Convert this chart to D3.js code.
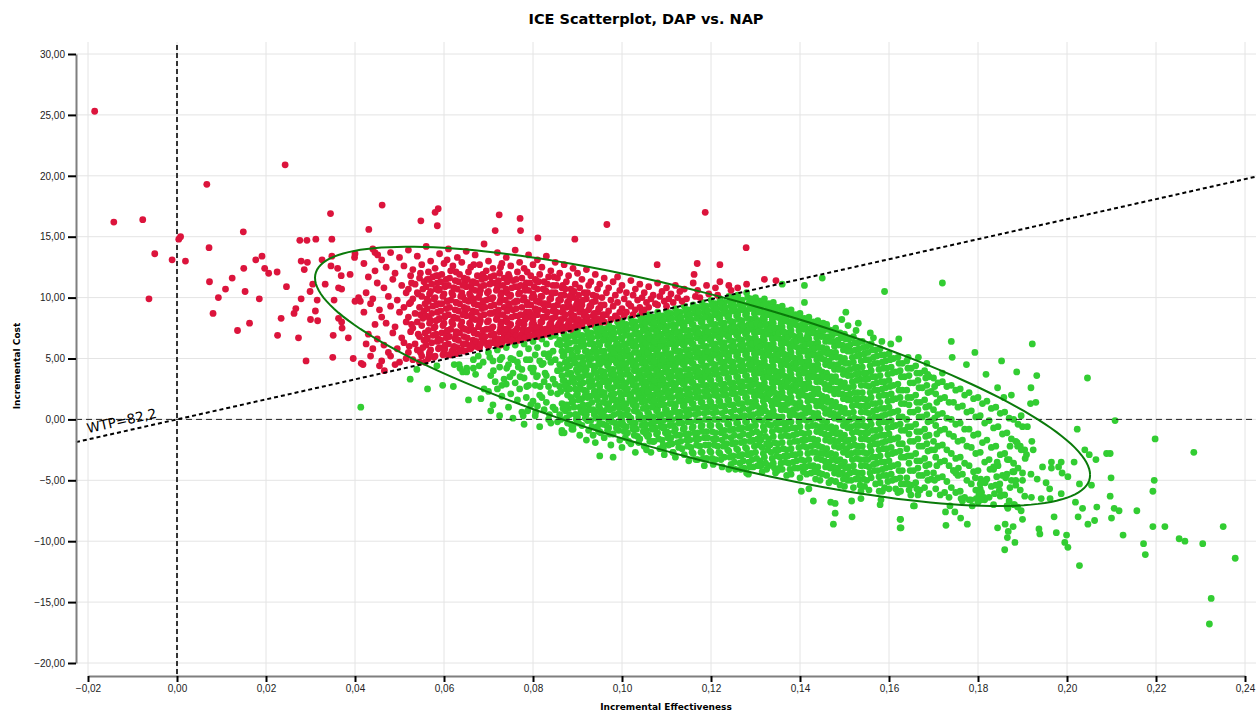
<!DOCTYPE html>
<html>
<head>
    <meta charset="utf-8">
    <script src="https://d3js.org/d3.v7.min.js"></script>
    <title>ICE Scatterplot</title>
    <style>
        body { margin: 0; background: #fff; }
    </style>
</head>
<body>
<svg id="chart"></svg>
<script>
// labels
const chartTitle = "ICE Scatterplot, DAP vs. NAP";
const xTitle = "Incremental Effectiveness";
const yTitle = "Incremental Cost";
const wtp = 82.2;
const xTicks = [-0.02, 0, 0.02, 0.04, 0.06, 0.08, 0.10, 0.12, 0.14, 0.16, 0.18, 0.20, 0.22, 0.24];
const yTicks = [-20, -15, -10, -5, 0, 5, 10, 15, 20, 25, 30];

// 95% ellipse of the simulated pairs
const meanEff = 0.1181, meanCost = 3.53;
const sdEff = 0.03558, sdCost = 4.349, corr = -0.76;
const chi2_95 = 5.991;

// simulated pairs: effectiveness x1000, cost x10
const leftOutliers = [
 -18.5,253, -14.2,162, -7.7,164, -5.0,136, -1.1,131, -6.3,99, 0.4,148, 0.8,150, 1.9,130, 6.7,193,
 7.2,141, 7.3,113, 8.1,87, 9.3,100, 10.9,107, 12.4,116, 13.6,73, 14.9,154, 15.0,124, 15.3,105,
 16.3,79, 17.7,131, 18.5,99, 19.1,134, 19.7,124, 20.6,120, 22.5,121, 22.6,69, 23.4,83, 24.3,209,
 24.6,109, 26.3,87, 26.7,91, 27.3,67, 27.6,147, 27.9,130, 27.9,99, 28.6,123, 29.0,48, 29.2,147,
 29.3,129, 29.9,105, 30.0,82, 30.5,111, 31.1,89, 31.2,148, 31.5,98, 31.6,81, 32.6,131, 33.3,111,
 34.5,169, 34.8,148, 35.1,69, 35.0,51, 35.3,98, 34.6,126, 34.8,134, 36.1,124, 36.3,108, 36.3,83,
 36.9,118, 37.0,107, 37.0,80, 37.1,75, 38.5,67, 38.9,119, 39.6,50, 39.9,133, 40.0,136, 40.0,97,
 40.8,100, 41.2,97, 41.4,46, 41.8,45, 43.1,156, 46.1,176, 44.5,137, 45.1,135, 46.6,40,
 54.8,163, 58.5,159, 58,170, 58.7,173, 72.4,168, 77.1,165, 77.2,155, 71.5,155, 81.1,149, 89.4,148,
 96.6,160, 118.7,170, 127.9,141, 107.9,127, 116.9,128, 116.2,119, 122,127, 132,115, 134.6,114
];

const upperCloud = [
 42,128, 42.5,104, 42,88, 42.5,62, 43,117, 43.5,95, 43,70, 43.5,52,
 44,140, 44.5,122, 44,99, 44.5,78, 44,58, 45,112, 45.5,90, 45,66, 45.5,44,
 46,131, 46.5,108, 46,84, 46.5,61, 46,48, 47,125, 47.5,101, 47,79, 47.5,55,
 48,137, 48.5,115, 48,93, 48.5,71, 48,52, 49,120, 49.5,98, 49,76, 49.5,58, 49,45,
 50,133, 50.5,110, 50,88, 50.5,67, 50,47, 51,126, 51.5,104, 51,92, 51.5,80, 51,63, 51.5,50,
 52,139, 52.5,118, 52,107, 52.5,96, 52,84, 52.5,72, 52,55, 52.7,112, 52.2,95, 52.7,78, 52.2,60,
 53,123, 53.5,111, 53,99, 53.5,87, 53,75, 53.5,62, 53,49,
 54,134, 54.5,116, 54,104, 54.5,92, 54,80, 54.5,68, 54,57, 54.5,47, 54.7,120, 54.2,103, 54.7,86, 54.2,70, 54.7,55,
 55,127, 55.5,113, 55,101, 55.5,89, 55,77, 55.5,65, 55,52,
 56,142, 56.5,121, 56,109, 56.5,97, 56,85, 56.5,73, 56,61, 56.5,50, 56.7,115, 56.2,99, 56.7,83, 56.2,66, 56.7,53,
 57,130, 57.5,117, 57,105, 57.5,93, 57,81, 57.5,69, 57,57,
 58,124, 58.5,112, 58,100, 58.5,88, 58,76, 58.5,64, 58,52, 58.7,118, 58.2,107, 58.7,95, 58.2,81, 58.7,66,
 59,136, 59.5,119, 59,107, 59.5,95, 59,83, 59.5,71, 59,59,
 60,128, 60.5,115, 60,103, 60.5,91, 60,79, 60.5,67, 60,55, 60.7,131, 60.2,110, 60.7,97, 60.2,84, 60.7,71, 60.2,58,
 61,140, 61.5,122, 61,110, 61.5,98, 61,86, 61.5,74, 61,62, 61.5,53,
 62,126, 62.5,114, 62,102, 62.5,90, 62,78, 62.5,66, 62,56, 62.7,121, 62.2,108, 62.7,96, 62.2,83, 62.7,70, 62.2,59,
 63,133, 63.5,119, 63,107, 63.5,95, 63,83, 63.5,71, 63,59,
 64,129, 64.5,116, 64,104, 64.5,92, 64,80, 64.5,68, 64,57, 64.7,113, 64.2,101, 64.7,88, 64.2,75, 64.7,62,
 65,138, 65.5,121, 65,109, 65.5,97, 65,85, 65.5,73, 65,62,
 66,125, 66.5,113, 66,101, 66.5,89, 66,77, 66.5,65, 66,58, 66.7,127, 66.2,111, 66.7,99, 66.2,86, 66.7,73, 66.2,61,
 67,135, 67.5,118, 67,106, 67.5,94, 67,82, 67.5,70, 67,60,
 68,127, 68.5,115, 68,103, 68.5,91, 68,79, 68.5,67, 68,59, 68.7,119, 68.2,106, 68.7,94, 68.2,81, 68.7,69, 68.2,62,
 69,144, 69.5,122, 69,110, 69.5,98, 69,86, 69.5,74, 69,64,
 70,130, 70.5,117, 70,105, 70.5,93, 70,81, 70.5,69, 70,60, 70.7,112, 70.2,99, 70.7,87, 70.2,74, 70.7,63,
 71,124, 71.5,112, 71,100, 71.5,88, 71,76, 71.5,66,
 72,137, 72.5,120, 72,108, 72.5,96, 72,84, 72.5,72, 72,62, 72.7,125, 72.2,110, 72.7,98, 72.2,86, 72.7,75, 72.2,66,
 73,128, 73.5,116, 73,104, 73.5,92, 73,80, 73.5,70, 73,63,
 74,133, 74.5,119, 74,107, 74.5,95, 74,83, 74.5,73, 74,65, 74.7,117, 74.2,104, 74.7,92, 74.2,80, 74.7,69,
 75,126, 75.5,114, 75,102, 75.5,90, 75,78, 75.5,68,
 76,139, 76.5,121, 76,109, 76.5,97, 76,85, 76.5,75, 76,66, 76.7,109, 76.2,97, 76.7,85, 76.2,73, 76.7,67,
 77,129, 77.5,116, 77,104, 77.5,92, 77,80, 77.5,70,
 78,124, 78.5,112, 78,100, 78.5,88, 78,78, 78.5,68, 78.7,121, 78.2,108, 78.7,96, 78.2,84, 78.7,73, 78.2,68,
 79,135, 79.5,118, 79,106, 79.5,94, 79,84, 79.5,74, 79,67,
 80,127, 80.5,115, 80,103, 80.5,91, 80,81, 80.5,71, 80.7,114, 80.2,101, 80.7,89, 80.2,78, 80.7,70,
 81,131, 81.5,119, 81,107, 81.5,96, 81,86, 81.5,76, 81,68,
 82,125, 82.5,113, 82,101, 82.5,90, 82,80, 82.5,71, 82.7,106, 82.2,95, 82.7,84, 82.2,73,
 83,134, 83.5,117, 83,105, 83.5,94, 83,84, 83.5,75, 83,70,
 84,122, 84.5,110, 84,99, 84.5,89, 84,79, 84.5,72, 84.7,117, 84.2,103, 84.7,92, 84.2,82, 84.7,75,
 85,129, 85.5,116, 85,104, 85.5,94, 85,84, 85.5,76,
 86,120, 86.5,108, 86,98, 86.5,88, 86,79, 86.5,73, 86.7,110, 86.2,98, 86.7,88, 86.2,80,
 87,127, 87.5,113, 87,102, 87.5,92, 87,83, 87.5,75,
 88,118, 88.5,107, 88,97, 88.5,87, 88,79, 88.5,74, 88.7,103, 88.2,93, 88.7,84, 88.2,77,
 89,124, 89.5,111, 89,100, 89.5,91, 89,82, 89.5,76,
 90,120, 90.5,108, 90,97, 90.5,88, 90,79, 91,115, 91.5,104, 91,94, 91.5,85, 91,77,
 92,123, 92.5,110, 92,99, 92.5,90, 92,81, 93,113, 93.5,102, 93,93, 93.5,85, 93,78,
 94,119, 94.5,107, 94,97, 94.5,88, 94,81, 95,111, 95.5,100, 95,91, 95.5,83,
 96,116, 96.5,104, 96,94, 96.5,86, 96,80, 97,108, 97.5,98, 97,89, 97.5,82,
 98,113, 98.5,102, 98,93, 98.5,85, 99,117, 99.5,106, 99,96, 99.5,88, 99,83,
 100,110, 100.5,99, 100,91, 100.5,85, 101,104, 101.5,95, 101,88,
 102,114, 102.5,102, 102,93, 102.5,86, 103,107, 103.5,98, 103,90,
 104,111, 104.5,100, 104,92, 104.5,88, 105,104, 105.5,96, 105,90,
 106,109, 106.5,99, 106,92, 107,102, 107.5,95, 108,112, 108.5,101, 108,94,
 109,105, 109.5,97, 110,108, 110.5,99, 110,93, 111,103, 111.5,96, 112,110, 112.5,100,
 113,105, 113.5,97, 114,107, 114.5,99, 116,112, 116.5,101, 117,106, 117.5,100,
 119,110, 119.5,103, 121,108, 121.5,102, 122,113, 124,110, 124.5,106, 126,108, 128,111
];

const upperFill = [
 55.25,107, 55.75,95, 55.25,83, 55.75,71, 55.25,59, 55.75,47,
 56.25,115, 56.75,103, 56.25,91, 56.75,79, 56.25,67, 56.75,55,
 57.25,111, 57.75,99, 57.25,87, 57.75,75, 57.25,63, 57.75,51,
 58.25,118, 58.75,106, 58.25,94, 58.75,82, 58.25,70, 58.75,58,
 59.25,113, 59.75,101, 59.25,89, 59.75,77, 59.25,65, 59.75,53,
 60.25,109, 60.75,97, 60.25,85, 60.75,73, 60.25,61, 60.75,53,
 61.25,116, 61.75,104, 61.25,92, 61.75,80, 61.25,68, 61.75,56,
 62.25,108, 62.75,96, 62.25,84, 62.75,72, 62.25,60, 62.75,54,
 63.25,113, 63.75,101, 63.25,89, 63.75,77, 63.25,65, 63.75,56,
 64.25,110, 64.75,98, 64.25,86, 64.75,74, 64.25,62, 64.75,56,
 65.25,115, 65.75,103, 65.25,91, 65.75,79, 65.25,67, 65.75,58,
 66.25,107, 66.75,95, 66.25,83, 66.75,71, 66.25,61,
 67.25,112, 67.75,100, 67.25,88, 67.75,76, 67.25,64, 67.75,59,
 68.25,109, 68.75,97, 68.25,85, 68.75,73, 68.25,62,
 69.25,116, 69.75,104, 69.25,92, 69.75,80, 69.25,68, 69.75,61,
 70.25,111, 70.75,99, 70.25,87, 70.75,75, 70.25,63,
 71.25,118, 71.75,106, 71.25,94, 71.75,82, 71.25,70, 71.75,62,
 72.25,114, 72.75,102, 72.25,90, 72.75,78, 72.25,66, 72.75,61,
 73.25,110, 73.75,98, 73.25,86, 73.75,74, 73.25,66,
 74.25,113, 74.75,101, 74.25,89, 74.75,77, 74.25,67, 74.75,64,
 75.25,108, 75.75,96, 75.25,84, 75.75,72, 75.25,65,
 76.25,115, 76.75,103, 76.25,91, 76.75,79, 76.25,69, 76.75,65,
 77.25,110, 77.75,98, 77.25,86, 77.75,74, 77.25,66,
 78.25,106, 78.75,94, 78.25,82, 78.75,72, 78.25,67,
 79.25,112, 79.75,100, 79.25,88, 79.75,78, 79.25,69,
 80.25,109, 80.75,97, 80.25,85, 80.75,75, 80.25,69,
 81.25,113, 81.75,101, 81.25,90, 81.75,80, 81.25,71,
 82.25,107, 82.75,95, 82.25,84, 82.75,74, 82.25,70,
 83.25,111, 83.75,99, 83.25,88, 83.75,78, 83.25,72,
 84.25,104, 84.75,93, 84.25,83, 84.75,75,
 85.25,110, 85.75,98, 85.25,88, 85.75,78, 85.25,73,
 86.25,102, 86.75,92, 86.25,82, 86.75,76,
 87.25,107, 87.75,96, 87.25,86, 87.75,77,
 88.25,101, 88.75,91, 88.25,81, 88.75,76,
 89.25,105, 89.75,94, 89.25,85, 89.75,78,
 90.25,102, 90.75,91, 90.25,82, 90.75,77,
 91.25,98, 91.75,88, 91.25,80, 92.25,104, 92.75,93, 92.25,84, 92.75,79,
 93.25,96, 93.75,87, 93.25,80, 94.25,101, 94.75,91, 94.25,83, 95.25,94, 95.75,86, 95.25,80
];

const mainCloud = [
 41.3,10, 52.4,33, 53.9,41, 56.3,25, 58.4,44, 59.7,28, 62.1,27, 62.3,45, 63.6,42, 65.1,42,
 65.5,16, 66.6,49, 67.7,52, 68.3,17, 69,25, 63.4,45, 64.2,39, 65.1,39, 66.6,42, 67.1,37,
 67.9,44, 68.8,47, 70.3,51, 71.1,40, 72.6,49, 73,28, 74.1,42, 74.8,35, 75.6,49, 76.7,43,
 77.1,35, 78.6,27, 79.3,49, 80.1,42, 80.8,35, 81.6,27, 82.3,46, 82.7,38, 83.7,54,
 70,55, 70.5,36, 70,23, 70.5,7, 71,48, 71.5,31, 71,12, 72,57, 72.5,43, 72,25, 72.5,3,
 73,51, 73.5,33, 73,19, 74,59, 74.5,45, 74,29, 74.5,10, 75,50, 75.5,38, 75,21, 75.5,1,
 76,61, 76.5,47, 76,30, 76.5,16, 77,54, 77.5,41, 77,25, 77.5,6, 78,62, 78.5,49, 78,34, 78.5,18, 78,-4,
 79,58, 79.5,42, 79,28, 79.5,12, 80,64, 80.5,53, 80,39, 80.5,28, 80,15, 80.5,3,
 81,59, 81.5,48, 81,36, 81.5,20, 81,11, 81.5,-6, 82,66, 82.5,54, 82,45, 82.5,31, 82,18, 82.5,8,
 83,62, 83.5,51, 83,36, 83.5,27, 83,14, 83.5,0, 84,68, 84.5,56, 84,47, 84.5,33, 84,22, 84.5,10, 84,-3,
 85,69, 85.5,62, 85,49, 85.5,40, 85,29, 85.5,21, 85,8, 85.5,-2,
 86,65, 86.5,56, 86,45, 86.5,36, 86,27, 86.5,13, 86,4, 86.5,-9,
 87,70, 87.5,61, 87,53, 87.5,42, 87,32, 87.5,25, 87,12, 87.5,1, 87,-11,
 88,68, 88.5,57, 88,49, 88.5,38, 88,30, 88.5,18, 88,9, 88.5,-4,
 89,72, 89.5,64, 89,52, 89.5,46, 89,34, 89.5,25, 89,15, 89.5,4, 89,-8,
 90,73, 90.5,64, 90,56, 90.5,45, 90,39, 90.5,29, 90,21, 90.5,10, 90,2, 90.5,-13,
 91,69, 91.5,61, 91,51, 91.5,43, 91,35, 91.5,24, 91,17, 91.5,5, 91,-5,
 92,74, 92.5,67, 92,56, 92.5,49, 92,41, 92.5,31, 92,23, 92.5,12, 92,4, 92.5,-9, 92,-17,
 93,71, 93.5,62, 93,55, 93.5,44, 93,36, 93.5,28, 93,19, 93.5,8, 93,-1, 93.5,-13,
 94,76, 94.5,68, 94,58, 94.5,50, 94,43, 94.5,34, 94,23, 94.5,16, 94,6, 94.5,-6, 94,-19,
 95,77, 95.5,69, 95,61, 95.5,51, 95,45, 95.5,35, 95,27, 95.5,20, 95,9, 95.5,2, 95,-10,
 96,74, 96.5,66, 96,56, 96.5,49, 96,39, 96.5,32, 96,22, 96.5,13, 96,7, 96.5,-5, 96,-15,
 97,78, 97.5,70, 97,63, 97.5,53, 97,46, 97.5,37, 97,30, 97.5,20, 97,13, 97.5,2, 97,-7, 97.5,-21,
 98,75, 98.5,66, 98,59, 98.5,51, 98,41, 98.5,34, 98,26, 98.5,16, 98,9, 98.5,-3, 98,-12,
 99,80, 99.5,72, 99,62, 99.5,55, 99,48, 99.5,39, 99,32, 99.5,22, 99,15, 99.5,5, 99,-4, 99.5,-17,
 100,81, 100.5,73, 100,66, 100.5,56, 100,49, 100.5,42, 100,32, 100.5,26, 100,16, 100.5,9, 100,-1, 100.5,-10, 100,-23,
 101,78, 101.5,69, 101,62, 101.5,53, 101,46, 101.5,37, 101,30, 101.5,21, 101,13, 101.5,3, 101,-6, 101.5,-18,
 102,83, 102.5,75, 102,66, 102.5,60, 102,51, 102.5,44, 102,35, 102.5,28, 102,19, 102.5,12, 102,1, 102.5,-8, 102,-20,
 103,80, 103.5,71, 103,64, 103.5,55, 103,48, 103.5,40, 103,33, 103.5,24, 103,16, 103.5,6, 103,-3, 103.5,-14, 103,-27,
 104,85, 104.5,77, 104,70, 104.5,61, 104,53, 104.5,46, 104,37, 104.5,30, 104,21, 104.5,14, 104,4, 104.5,-5, 104,-16,
 105,83, 105.5,74, 105,67, 105.5,59, 105,52, 105.5,43, 105,36, 105.5,27, 105,20, 105.5,10, 105,1, 105.5,-9, 105,-22,
 106,86, 106.5,79, 106,70, 106.5,63, 106,54, 106.5,47, 106,38, 106.5,31, 106,22, 106.5,15, 106,5, 106.5,-4, 106,-13, 106.5,-27,
 107,84, 107.5,76, 107,68, 107.5,61, 107,52, 107.5,45, 107,36, 107.5,29, 107,20, 107.5,12, 107,2, 107.5,-7, 107,-18,
 108,88, 108.5,80, 108,73, 108.5,64, 108,57, 108.5,48, 108,41, 108.5,32, 108,25, 108.5,16, 108,8, 108.5,-2, 108,-11, 108.5,-24,
 109,85, 109.5,77, 109,70, 109.5,62, 109,53, 109.5,46, 109,38, 109.5,29, 109,22, 109.5,12, 109,4, 109.5,-6, 109,-17, 109.5,-29,
 110,89, 110.5,82, 110,73, 110.5,66, 110,58, 110.5,49, 110,42, 110.5,34, 110,25, 110.5,18, 110,8, 110.5,0, 110,-10, 110.5,-21,
 111,87, 111.5,78, 111,71, 111.5,63, 111,54, 111.5,47, 111,39, 111.5,30, 111,23, 111.5,13, 111,5, 111.5,-5, 111,-15, 111.5,-27,
 112,91, 112.5,83, 112,76, 112.5,67, 112,60, 112.5,51, 112,44, 112.5,35, 112,28, 112.5,19, 112,11, 112.5,1, 112,-8, 112.5,-19, 112,-31,
 113,88, 113.5,80, 113,72, 113.5,65, 113,56, 113.5,49, 113,40, 113.5,33, 113,24, 113.5,16, 113,6, 113.5,-3, 113,-13, 113.5,-24,
 114,93, 114.5,85, 114,77, 114.5,68, 114,61, 114.5,52, 114,45, 114.5,36, 114,29, 114.5,20, 114,12, 114.5,2, 114,-7, 114.5,-17, 114,-29,
 115,90, 115.5,82, 115,73, 115.5,66, 115,57, 115.5,50, 115,41, 115.5,34, 115,25, 115.5,17, 115,8, 115.5,-2, 115,-12, 115.5,-23, 115,-34,
 116,94, 116.5,87, 116,78, 116.5,71, 116,62, 116.5,55, 116,46, 116.5,39, 116,30, 116.5,22, 116,13, 116.5,4, 116,-6, 116.5,-16, 116,-28,
 117,92, 117.5,84, 117,75, 117.5,68, 117,59, 117.5,52, 117,43, 117.5,36, 117,27, 117.5,18, 117,9, 117.5,-1, 117,-11, 117.5,-22, 117,-33,
 118,96, 118.5,88, 118,80, 118.5,71, 118,64, 118.5,55, 118,48, 118.5,39, 118,32, 118.5,23, 118,14, 118.5,5, 118,-5, 118.5,-15, 118,-27, 118.5,-38,
 119,93, 119.5,85, 119,76, 119.5,69, 119,60, 119.5,53, 119,44, 119.5,37, 119,28, 119.5,19, 119,10, 119.5,0, 119,-10, 119.5,-21, 119,-32,
 120,98, 120.5,90, 120,82, 120.5,73, 120,66, 120.5,57, 120,50, 120.5,41, 120,32, 120.5,24, 120,14, 120.5,5, 120,-5, 120.5,-16, 120,-27, 120.5,-37,
 121,95, 121.5,87, 121,78, 121.5,71, 121,62, 121.5,54, 121,45, 121.5,37, 121,28, 121.5,19, 121,10, 121.5,0, 121,-11, 121.5,-22, 121,-33,
 122,99, 122.5,91, 122,83, 122.5,74, 122,67, 122.5,58, 122,51, 122.5,42, 122,33, 122.5,24, 122,15, 122.5,5, 122,-6, 122.5,-17, 122,-28, 122.5,-39,
 123,96, 123.5,88, 123,79, 123.5,72, 123,63, 123.5,55, 123,47, 123.5,38, 123,29, 123.5,20, 123,11, 123.5,1, 123,-9, 123.5,-20, 123,-31,
 124,101, 124.5,93, 124,85, 124.5,76, 124,69, 124.5,60, 124,52, 124.5,43, 124,34, 124.5,25, 124,16, 124.5,6, 124,-4, 124.5,-15, 124,-26, 124.5,-37,
 125,97, 125.5,89, 125,80, 125.5,73, 125,64, 125.5,56, 125,47, 125.5,39, 125,30, 125.5,21, 125,12, 125.5,2, 125,-8, 125.5,-19, 125,-30, 125.5,-41,
 126,102, 126.5,94, 126,86, 126.5,77, 126,70, 126.5,61, 126,53, 126.5,44, 126,35, 126.5,26, 126,17, 126.5,7, 126,-3, 126.5,-14, 126,-25, 126.5,-36,
 127,98, 127.5,90, 127,81, 127.5,74, 127,65, 127.5,57, 127,48, 127.5,40, 127,31, 127.5,22, 127,13, 127.5,3, 127,-7, 127.5,-18, 127,-29, 127.5,-40,
 128,104, 128.5,95, 128,87, 128.5,78, 128,71, 128.5,62, 128,54, 128.5,45, 128,36, 128.5,27, 128,18, 128.5,8, 128,-2, 128.5,-13, 128,-24, 128.5,-35, 128,-44,
 129,99, 129.5,91, 129,82, 129.5,75, 129,66, 129.5,58, 129,49, 129.5,41, 129,32, 129.5,23, 129,14, 129.5,4, 129,-6, 129.5,-17, 129,-28, 129.5,-39,
 130,100, 130.5,92, 130,83, 130.5,76, 130,67, 130.5,59, 130,51, 130.5,42, 130,33, 130.5,24, 130,15, 130.5,5, 130,-5, 130.5,-16, 130,-27, 130.5,-38,
 131,97, 131.5,88, 131,81, 131.5,72, 131,64, 131.5,55, 131,46, 131.5,38, 131,28, 131.5,19, 131,9, 131.5,-1, 131,-12, 131.5,-23, 131,-34, 131.5,-43,
 132,99, 132.5,90, 132,82, 132.5,74, 132,65, 132.5,57, 132,48, 132.5,39, 132,30, 132.5,21, 132,11, 132.5,1, 132,-9, 132.5,-20, 132,-31, 132.5,-41,
 133,95, 133.5,86, 133,78, 133.5,70, 133,61, 133.5,52, 133,43, 133.5,34, 133,25, 133.5,15, 133,5, 133.5,-5, 133,-16, 133.5,-27, 133,-38,
 134,96, 134.5,88, 134,79, 134.5,71, 134,62, 134.5,53, 134,44, 134.5,35, 134,26, 134.5,17, 134,7, 134.5,-3, 134,-14, 134.5,-25, 134,-36, 134.5,-44,
 135,92, 135.5,83, 135,75, 135.5,66, 135,57, 135.5,48, 135,39, 135.5,30, 135,21, 135.5,12, 135,2, 135.5,-9, 135,-20, 135.5,-31, 135,-42,
 136,93, 136.5,85, 136,76, 136.5,67, 136,58, 136.5,49, 136,40, 136.5,31, 136,22, 136.5,12, 136,2, 136.5,-8, 136,-19, 136.5,-30, 136,-41,
 137,89, 137.5,80, 137,71, 137.5,62, 137,53, 137.5,44, 137,35, 137.5,26, 137,17, 137.5,7, 137,-3, 137.5,-14, 137,-25, 137.5,-36, 137,-46,
 138,90, 138.5,82, 138,73, 138.5,64, 138,55, 138.5,46, 138,37, 138.5,28, 138,18, 138.5,8, 138,-2, 138.5,-13, 138,-24, 138.5,-35, 138,-45,
 139,86, 139.5,77, 139,68, 139.5,59, 139,50, 139.5,41, 139,32, 139.5,23, 139,13, 139.5,3, 139,-7, 139.5,-18, 139,-29, 139.5,-40,
 140,87, 140.5,78, 140,69, 140.5,60, 140,51, 140.5,42, 140,33, 140.5,24, 140,14, 140.5,4, 140,-6, 140.5,-17, 140,-28, 140.5,-39, 140,-48,
 141,83, 141.5,74, 141,65, 141.5,56, 141,47, 141.5,38, 141,29, 141.5,19, 141,9, 141.5,-1, 141,-12, 141.5,-23, 141,-34, 141.5,-45,
 142,84, 142.5,75, 142,66, 142.5,57, 142,48, 142.5,39, 142,30, 142.5,20, 142,10, 142.5,0, 142,-11, 142.5,-22, 142,-33, 142.5,-44,
 143,80, 143.5,71, 143,62, 143.5,53, 143,44, 143.5,35, 143,25, 143.5,15, 143,5, 143.5,-5, 143,-16, 143.5,-27, 143,-38, 143.5,-49,
 144,81, 144.5,72, 144,63, 144.5,54, 144,45, 144.5,35, 144,25, 144.5,15, 144,5, 144.5,-6, 144,-17, 144.5,-28, 144,-39, 144.5,-50,
 145,77, 145.5,68, 145,59, 145.5,49, 145,39, 145.5,29, 145,19, 145.5,9, 145,-1, 145.5,-12, 145,-23, 145.5,-34, 145,-45,
 146,78, 146.5,68, 146,58, 146.5,48, 146,38, 146.5,28, 146,18, 146.5,8, 146,-2, 146.5,-13, 146,-24, 146.5,-35, 146,-46, 146.5,-52,
 147,73, 147.5,64, 147,55, 147.5,45, 147,35, 147.5,25, 147,15, 147.5,5, 147,-6, 147.5,-17, 147,-28, 147.5,-39, 147,-50,
 148,75, 148.5,65, 148,55, 148.5,45, 148,35, 148.5,25, 148,14, 148.5,4, 148,-7, 148.5,-18, 148,-29, 148.5,-40, 148,-51,
 149,71, 149.5,61, 149,51, 149.5,41, 149,31, 149.5,21, 149,10, 149.5,0, 149,-11, 149.5,-22, 149,-33, 149.5,-44, 149,-54,
 150,70, 150.5,60, 150,50, 150.5,40, 150,30, 150.5,20, 150,9, 150.5,-2, 150,-13, 150.5,-24, 150,-35, 150.5,-46, 150,-55,
 151,66, 151.5,56, 151,46, 151.5,36, 151,26, 151.5,16, 151,5, 151.5,-6, 151,-17, 151.5,-28, 151,-39, 151.5,-50,
 152,68, 152.5,57, 152,47, 152.5,37, 152,27, 152.5,17, 152,6, 152.5,-5, 152,-16, 152.5,-27, 152,-38, 152.5,-49, 152,-56,
 153,63, 153.5,53, 153,43, 153.5,33, 153,22, 153.5,11, 153,0, 153.5,-11, 153,-22, 153.5,-33, 153,-44, 153.5,-54,
 154,64, 154.5,54, 154,43, 154.5,33, 154,22, 154.5,11, 154,0, 154.5,-11, 154,-22, 154.5,-33, 154,-44, 154.5,-55,
 155,60, 155.5,49, 155,38, 155.5,27, 155,16, 155.5,5, 155,-6, 155.5,-17, 155,-28, 155.5,-39, 155,-50, 155.5,-58,
 156,62, 156.5,51, 156,40, 156.5,29, 156,18, 156.5,7, 156,-4, 156.5,-15, 156,-26, 156.5,-37, 156,-48,
 157,57, 157.5,46, 157,35, 157.5,24, 157,13, 157.5,2, 157,-9, 157.5,-20, 157,-31, 157.5,-42, 157,-53,
 158,58, 158.5,47, 158,36, 158.5,25, 158,14, 158.5,3, 158,-8, 158.5,-19, 158,-30, 158.5,-41, 158,-52, 158.5,-59,
 159,53, 159.5,42, 159,31, 159.5,20, 159,9, 159.5,-2, 159,-13, 159.5,-24, 159,-35, 159.5,-46, 159,-56,
 160,54, 160.5,43, 160,32, 160.5,21, 160,10, 160.5,-1, 160,-12, 160.5,-23, 160,-34, 160.5,-45, 160,-57,
 161,50, 161.5,39, 161,28, 161.5,17, 161,6, 161.5,-5, 161,-16, 161.5,-27, 161,-38, 161.5,-49,
 162,51, 162.5,40, 162,29, 162.5,18, 162,7, 162.5,-4, 162,-15, 162.5,-26, 162,-37, 162.5,-48, 162,-60,
 163,46, 163.5,35, 163,24, 163.5,13, 163,2, 163.5,-9, 163,-20, 163.5,-31, 163,-42, 163.5,-53,
 164,48, 164.5,36, 164,24, 164.5,12, 164,0, 164.5,-12, 164,-24, 164.5,-36, 164,-48, 164.5,-58,
 165,42, 165.5,30, 165,18, 165.5,6, 165,-6, 165.5,-18, 165,-30, 165.5,-42, 165,-54,
 166,44, 166.5,32, 166,20, 166.5,8, 166,-4, 166.5,-16, 166,-28, 166.5,-40, 166,-52, 166.5,-62,
 167,38, 167.5,26, 167,14, 167.5,2, 167,-10, 167.5,-22, 167,-34, 167.5,-46, 167,-58,
 168,40, 168.5,28, 168,16, 168.5,4, 168,-8, 168.5,-20, 168,-32, 168.5,-44, 168,-56,
 169,35, 169.5,23, 169,11, 169.5,-1, 169,-13, 169.5,-25, 169,-37, 169.5,-49, 169,-61,
 170,34, 170.5,21, 170,8, 170.5,-5, 170,-18, 170.5,-31, 170,-44, 170.5,-57,
 171,30, 171.5,17, 171,4, 171.5,-9, 171,-22, 171.5,-35, 171,-48, 171.5,-62,
 172,31, 172.5,18, 172,5, 172.5,-8, 172,-21, 172.5,-34, 172,-47, 172.5,-60,
 173,27, 173.5,14, 173,1, 173.5,-12, 173,-25, 173.5,-38, 173,-51, 173.5,-64,
 174,28, 174.5,14, 174,0, 174.5,-14, 174,-28, 174.5,-42, 174,-56,
 175,24, 175.5,10, 175,-4, 175.5,-18, 175,-32, 175.5,-46, 175,-60,
 176,25, 176.5,11, 176,-3, 176.5,-17, 176,-31, 176.5,-45, 176,-59, 176.5,-67,
 177,20, 177.5,6, 177,-8, 177.5,-22, 177,-36, 177.5,-50, 177,-64,
 178,22, 178.5,7, 178,-8, 178.5,-23, 178,-38, 178.5,-53, 178,-66,
 179,17, 179.5,2, 179,-13, 179.5,-28, 179,-43, 179.5,-58,
 180,18, 180.5,3, 180,-12, 180.5,-27, 180,-42, 180.5,-57, 180,-68,
 181,13, 181.5,-3, 181,-19, 181.5,-35, 181,-51, 181.5,-66,
 182,15, 182.5,-1, 182,-17, 182.5,-33, 182,-49, 182.5,-64,
 183,9, 183.5,-7, 183,-23, 183.5,-39, 183,-55, 183.5,-70,
 184,10, 184.5,-6, 184,-22, 184.5,-38, 184,-54,
 185,5, 185.5,-12, 185,-29, 185.5,-46, 185,-63,
 186,6, 186.5,-11, 186,-28, 186.5,-45, 186,-62, 186.5,-71,
 187,1, 187.5,-16, 187,-33, 187.5,-50, 187,-67,
 188,0, 188.5,-18, 188,-36, 188.5,-54, 188,-70,
 189,-4, 189.5,-22, 189,-40, 189.5,-58, 190,-6, 190.5,-25, 190,-44, 190.5,-63
];

// the dense middle of the cloud
const coreFill = [
 86.25,61, 86.75,52, 86.25,41, 86.75,32, 86.25,23, 86.75,9, 86.25,0,
 87.25,66, 87.75,57, 87.25,47, 87.75,37, 87.25,28, 87.75,20, 87.25,7, 87.75,-3,
 88.25,63, 88.75,53, 88.25,44, 88.75,34, 88.25,25, 88.75,14, 88.25,4, 88.75,-8,
 89.25,68, 89.75,59, 89.25,48, 89.75,41, 89.25,30, 89.75,20, 89.25,10, 89.75,0,
 90.25,69, 90.75,60, 90.25,51, 90.75,41, 90.25,34, 90.75,25, 90.25,16, 90.75,6, 90.25,-3,
 91.25,65, 91.75,56, 91.25,47, 91.75,39, 91.25,30, 91.75,20, 91.25,12, 91.75,1,
 92.25,70, 92.75,62, 92.25,52, 92.75,45, 92.25,36, 92.75,27, 92.25,18, 92.75,8, 92.25,-1,
 93.25,67, 93.75,58, 93.25,50, 93.75,40, 93.25,32, 93.75,23, 93.25,14, 93.75,4, 93.25,-6,
 94.25,72, 94.75,63, 94.25,54, 94.75,46, 94.25,38, 94.75,29, 94.25,19, 94.75,11, 94.25,1, 94.75,-10,
 95.25,73, 95.75,65, 95.25,56, 95.75,47, 95.25,40, 95.75,31, 95.25,23, 95.75,14, 95.25,5, 95.75,-4,
 96.25,70, 96.75,61, 96.25,52, 96.75,44, 96.25,35, 96.75,27, 96.25,18, 96.75,9, 96.25,2, 96.75,-9,
 97.25,74, 97.75,66, 97.25,58, 97.75,49, 97.25,41, 97.75,33, 97.25,25, 97.75,16, 97.25,8, 97.75,-2, 97.25,-12,
 98.25,71, 98.75,62, 98.25,55, 98.75,46, 98.25,37, 98.75,30, 98.25,21, 98.75,12, 98.25,4, 98.75,-7,
 99.25,76, 99.75,67, 99.25,58, 99.75,51, 99.25,43, 99.75,35, 99.25,27, 99.75,18, 99.25,10, 99.75,1, 99.25,-9,
 100.25,77, 100.75,69, 100.25,61, 100.75,52, 100.25,45, 100.75,37, 100.25,28, 100.75,21, 100.25,12, 100.75,4, 100.25,-5, 100.75,-15,
 101.25,74, 101.75,65, 101.25,57, 101.75,49, 101.25,41, 101.75,33, 101.25,25, 101.75,17, 101.25,8, 101.75,-1, 101.25,-11,
 102.25,79, 102.75,70, 102.25,62, 102.75,55, 102.25,47, 102.75,40, 102.25,31, 102.75,23, 102.25,15, 102.75,7, 102.25,-3, 102.75,-13,
 103.25,76, 103.75,67, 103.25,60, 103.75,51, 103.25,44, 103.75,36, 103.25,28, 103.75,20, 103.25,11, 103.75,2, 103.25,-8, 103.75,-19,
 104.25,81, 104.75,73, 104.25,65, 104.75,57, 104.25,49, 104.75,41, 104.25,33, 104.75,25, 104.25,17, 104.75,9, 104.25,0, 104.75,-10,
 105.25,79, 105.75,70, 105.25,63, 105.75,55, 105.25,47, 105.75,39, 105.25,31, 105.75,23, 105.25,15, 105.75,6, 105.25,-4, 105.75,-14,
 106.25,82, 106.75,74, 106.25,66, 106.75,58, 106.25,50, 106.75,42, 106.25,34, 106.75,26, 106.25,18, 106.75,10, 106.25,1, 106.75,-8, 106.25,-18,
 107.25,80, 107.75,72, 107.25,64, 107.75,56, 107.25,48, 107.75,40, 107.25,32, 107.75,24, 107.25,16, 107.75,7, 107.25,-2, 107.75,-12,
 108.25,84, 108.75,76, 108.25,68, 108.75,60, 108.25,52, 108.75,44, 108.25,36, 108.75,28, 108.25,20, 108.75,12, 108.25,3, 108.75,-6, 108.25,-16,
 109.25,81, 109.75,73, 109.25,65, 109.75,57, 109.25,49, 109.75,42, 109.25,33, 109.75,25, 109.25,17, 109.75,8, 109.25,-1, 109.75,-11, 109.25,-21,
 110.25,85, 110.75,77, 110.25,69, 110.75,62, 110.25,53, 110.75,45, 110.25,38, 110.75,29, 110.25,21, 110.75,13, 110.25,4, 110.75,-5, 110.25,-15,
 111.25,83, 111.75,74, 111.25,67, 111.75,58, 111.25,50, 111.75,43, 111.25,35, 111.75,26, 111.25,18, 111.75,9, 111.25,0, 111.75,-10, 111.25,-20,
 112.25,87, 112.75,79, 112.25,71, 112.75,63, 112.25,56, 112.75,47, 112.25,40, 112.75,31, 112.25,24, 112.75,15, 112.25,6, 112.75,-3, 112.25,-13, 112.75,-23,
 113.25,84, 113.75,76, 113.25,68, 113.75,61, 113.25,52, 113.75,45, 113.25,36, 113.75,29, 113.25,20, 113.75,11, 113.25,2, 113.75,-8, 113.25,-18,
 114.25,89, 114.75,81, 114.25,73, 114.75,64, 114.25,57, 114.75,48, 114.25,41, 114.75,32, 114.25,25, 114.75,16, 114.25,7, 114.75,-2, 114.25,-12, 114.75,-22,
 115.25,86, 115.75,78, 115.25,69, 115.75,62, 115.25,53, 115.75,46, 115.25,37, 115.75,30, 115.25,21, 115.75,13, 115.25,4, 115.75,-7, 115.25,-17, 115.75,-27,
 116.25,90, 116.75,83, 116.25,74, 116.75,67, 116.25,58, 116.75,51, 116.25,42, 116.75,35, 116.25,26, 116.75,18, 116.25,9, 116.75,-1, 116.25,-11, 116.75,-21,
 117.25,88, 117.75,80, 117.25,71, 117.75,64, 117.25,55, 117.75,48, 117.25,39, 117.75,32, 117.25,23, 117.75,14, 117.25,5, 117.75,-6, 117.25,-16, 117.75,-27,
 118.25,92, 118.75,84, 118.25,76, 118.75,67, 118.25,60, 118.75,51, 118.25,44, 118.75,35, 118.25,28, 118.75,19, 118.25,10, 118.75,0, 118.25,-10, 118.75,-21, 118.25,-32,
 119.25,89, 119.75,81, 119.25,72, 119.75,65, 119.25,56, 119.75,49, 119.25,40, 119.75,33, 119.25,24, 119.75,15, 119.25,6, 119.75,-5, 119.25,-15, 119.75,-26,
 120.25,94, 120.75,86, 120.25,78, 120.75,69, 120.25,62, 120.75,53, 120.25,46, 120.75,37, 120.25,28, 120.75,20, 120.25,10, 120.75,0, 120.25,-10, 120.75,-21, 120.25,-32,
 121.25,91, 121.75,83, 121.25,74, 121.75,67, 121.25,58, 121.75,50, 121.25,41, 121.75,33, 121.25,24, 121.75,15, 121.25,6, 121.75,-5, 121.25,-16, 121.75,-27,
 122.25,95, 122.75,87, 122.25,79, 122.75,70, 122.25,63, 122.75,54, 122.25,47, 122.75,38, 122.25,29, 122.75,20, 122.25,11, 122.75,0, 122.25,-11, 122.75,-22, 122.25,-33,
 123.25,92, 123.75,84, 123.25,75, 123.75,68, 123.25,59, 123.75,51, 123.25,43, 123.75,34, 123.25,25, 123.75,16, 123.25,7, 123.75,-4, 123.25,-14, 123.75,-25,
 124.25,97, 124.75,89, 124.25,81, 124.75,72, 124.25,65, 124.75,56, 124.25,48, 124.75,39, 124.25,30, 124.75,21, 124.25,12, 124.75,1, 124.25,-9, 124.75,-20, 124.25,-31,
 125.25,93, 125.75,85, 125.25,76, 125.75,69, 125.25,60, 125.75,52, 125.25,43, 125.75,35, 125.25,26, 125.75,17, 125.25,8, 125.75,-3, 125.25,-13, 125.75,-24, 125.25,-35,
 126.25,98, 126.75,90, 126.25,82, 126.75,73, 126.25,66, 126.75,57, 126.25,49, 126.75,40, 126.25,31, 126.75,22, 126.25,13, 126.75,2, 126.25,-8, 126.75,-19, 126.25,-30,
 127.25,94, 127.75,86, 127.25,77, 127.75,70, 127.25,61, 127.75,53, 127.25,44, 127.75,36, 127.25,27, 127.75,18, 127.25,9, 127.75,-2, 127.25,-12, 127.75,-23, 127.25,-34,
 128.25,100, 128.75,91, 128.25,83, 128.75,74, 128.25,67, 128.75,58, 128.25,50, 128.75,41, 128.25,32, 128.75,23, 128.25,14, 128.75,3, 128.25,-7, 128.75,-18, 128.25,-29, 128.75,-39,
 129.25,95, 129.75,87, 129.25,78, 129.75,71, 129.25,62, 129.75,54, 129.25,45, 129.75,37, 129.25,28, 129.75,19, 129.25,10, 129.75,-1, 129.25,-11, 129.75,-22, 129.25,-33,
 130.25,96, 130.75,88, 130.25,79, 130.75,72, 130.25,63, 130.75,55, 130.25,47, 130.75,38, 130.25,29, 130.75,20, 130.25,11, 130.75,0, 130.25,-10, 130.75,-21, 130.25,-32,
 131.25,93, 131.75,84, 131.25,77, 131.75,68, 131.25,60, 131.75,51, 131.25,42, 131.75,34, 131.25,24, 131.75,15, 131.25,5, 131.75,-6, 131.25,-17, 131.75,-28, 131.25,-38,
 132.25,95, 132.75,86, 132.25,78, 132.75,70, 132.25,61, 132.75,53, 132.25,44, 132.75,35, 132.25,26, 132.75,17, 132.25,7, 132.75,-4, 132.25,-14, 132.75,-25, 132.25,-36,
 133.25,91, 133.75,82, 133.25,74, 133.75,66, 133.25,57, 133.75,48, 133.25,39, 133.75,30, 133.25,21, 133.75,11, 133.25,1, 133.75,-10, 133.25,-21, 133.75,-32,
 134.25,92, 134.75,84, 134.25,75, 134.75,67, 134.25,58, 134.75,49, 134.25,40, 134.75,31, 134.25,22, 134.75,13, 134.25,3, 134.75,-8, 134.25,-19, 134.75,-30, 134.25,-40,
 135.25,88, 135.75,79, 135.25,71, 135.75,62, 135.25,53, 135.75,44, 135.25,35, 135.75,26, 135.25,17, 135.75,8, 135.25,-3, 135.75,-14, 135.25,-25, 135.75,-36,
 136.25,89, 136.75,81, 136.25,72, 136.75,63, 136.25,54, 136.75,45, 136.25,36, 136.75,27, 136.25,18, 136.75,8, 136.25,-3, 136.75,-13, 136.25,-24, 136.75,-35,
 137.25,85, 137.75,76, 137.25,67, 137.75,58, 137.25,49, 137.75,40, 137.25,31, 137.75,22, 137.25,13, 137.75,3, 137.25,-8, 137.75,-19, 137.25,-30, 137.75,-41,
 138.25,86, 138.75,78, 138.25,69, 138.75,60, 138.25,51, 138.75,42, 138.25,33, 138.75,24, 138.25,14, 138.75,4, 138.25,-7, 138.75,-18, 138.25,-29, 138.75,-40,
 139.25,82, 139.75,73, 139.25,64, 139.75,55, 139.25,46, 139.75,37, 139.25,28, 139.75,19, 139.25,9, 139.75,-2, 139.25,-12, 139.75,-23, 139.25,-34,
 140.25,83, 140.75,74, 140.25,65, 140.75,56, 140.25,47, 140.75,38, 140.25,29, 140.75,20, 140.25,10, 140.75,0, 140.25,-11, 140.75,-22, 140.25,-33, 140.75,-43,
 141.25,79, 141.75,70, 141.25,61, 141.75,52, 141.25,43, 141.75,34, 141.25,25, 141.75,15, 141.25,5, 141.75,-6, 141.25,-17, 141.75,-28, 141.25,-39,
 142.25,80, 142.75,71, 142.25,62, 142.75,53, 142.25,44, 142.75,35, 142.25,26, 142.75,16, 142.25,6, 142.75,-5, 142.25,-16, 142.75,-27, 142.25,-38,
 143.25,76, 143.75,67, 143.25,58, 143.75,49, 143.25,40, 143.75,31, 143.25,21, 143.75,11, 143.25,1, 143.75,-10, 143.25,-21, 143.75,-32, 143.25,-43,
 144.25,77, 144.75,68, 144.25,59, 144.75,50, 144.25,41, 144.75,31, 144.25,21, 144.75,11, 144.25,1, 144.75,-11, 144.25,-22, 144.75,-33, 144.25,-44,
 145.25,73, 145.75,64, 145.25,55, 145.75,45, 145.25,35, 145.75,25, 145.25,15, 145.75,5, 145.25,-6, 145.75,-17, 145.25,-28, 145.75,-39,
 146.25,74, 146.75,64, 146.25,54, 146.75,44, 146.25,34, 146.75,24, 146.25,14, 146.75,4, 146.25,-7, 146.75,-18, 146.25,-29, 146.75,-40,
 147.25,69, 147.75,60, 147.25,51, 147.75,41, 147.25,31, 147.75,21, 147.25,11, 147.75,1, 147.25,-11, 147.75,-22, 147.25,-33, 147.75,-44,
 148.25,71, 148.75,61, 148.25,51, 148.75,41, 148.25,31, 148.75,21, 148.25,10, 148.75,0, 148.25,-12, 148.75,-23, 148.25,-34, 148.75,-45,
 149.25,67, 149.75,57, 149.25,47, 149.75,37, 149.25,27, 149.75,17, 149.25,6, 149.75,-5, 149.25,-16, 149.75,-27, 149.25,-38, 149.75,-49,
 150.25,66, 150.75,56, 150.25,46, 150.75,36, 150.25,26, 150.75,16, 150.25,5, 150.75,-7, 150.25,-18, 150.75,-29, 150.25,-40, 150.75,-50,
 151.25,61, 151.75,51, 151.25,41, 151.75,31, 151.25,21, 151.75,11, 151.25,0, 151.75,-11, 151.25,-22, 151.75,-33, 151.25,-44,
 152.25,63, 152.75,52, 152.25,42, 152.75,32, 152.25,22, 152.75,12, 152.25,1, 152.75,-10, 152.25,-21, 152.75,-32, 152.25,-43,
 153.25,58, 153.75,48, 153.25,38, 153.75,28, 153.25,17, 153.75,6, 153.25,-5, 153.75,-16, 153.25,-27, 153.75,-38, 153.25,-49,
 154.25,59, 154.75,49, 154.25,38, 154.75,28, 154.25,17, 154.75,6, 154.25,-5, 154.75,-16, 154.25,-27, 154.75,-38, 154.25,-49,
 155.25,55, 155.75,44, 155.25,33, 155.75,22, 155.25,11, 155.75,0, 155.25,-11, 155.75,-22, 155.25,-33, 155.75,-44,
 156.25,57, 156.75,46, 156.25,35, 156.75,24, 156.25,13, 156.75,2, 156.25,-9, 156.75,-20, 156.25,-31, 156.75,-42,
 157.25,52, 157.75,41, 157.25,30, 157.75,19, 157.25,8, 157.75,-3, 157.25,-14, 157.75,-25, 157.25,-36, 157.75,-47,
 158.25,53, 158.75,42, 158.25,31, 158.75,20, 158.25,9, 158.75,-2, 158.25,-13, 158.75,-24, 158.25,-35, 158.75,-46,
 159.25,48, 159.75,37, 159.25,26, 159.75,15, 159.25,4, 159.75,-7, 159.25,-18, 159.75,-29, 159.25,-40, 159.75,-51,
 160.25,49, 160.75,38, 160.25,27, 160.75,16, 160.25,5, 160.75,-6, 160.25,-17, 160.75,-28, 160.25,-39, 160.75,-50,
 162.25,46, 162.75,35, 162.25,24, 162.75,13, 162.25,2, 162.75,-9, 162.25,-20, 162.75,-31, 162.25,-42, 162.75,-53,
 164.25,42, 164.75,30, 164.25,18, 164.75,6, 164.25,-6, 164.75,-18, 164.25,-30, 164.75,-42, 164.25,-53,
 166.25,38, 166.75,26, 166.25,14, 166.75,2, 166.25,-10, 166.75,-22, 166.25,-34, 166.75,-46, 166.25,-57,
 168.25,34, 168.75,22, 168.25,10, 168.75,-2, 168.25,-14, 168.75,-26, 168.25,-38, 168.75,-50,
 170.25,27, 170.75,14, 170.25,1, 170.75,-12, 170.25,-25, 170.75,-38, 170.25,-50
];

const edgePoints = [
 136,111, 141,110, 145,116, 159,105, 172,112, 141,96, 139,84, 145.2,79, 141.5,67, 130.3,95, 125.4,100,
 150.3,88, 149.4,82, 150.8,77, 153.1,79, 152.6,73, 155.8,71, 156.5,67, 158.4,64, 160.4,62, 162.2,66,
 164.3,51, 166.6,51, 168.5,46, 168.7,37, 172,38, 174,64, 174.2,51, 179.3,55, 177.4,45, 185.3,48,
 192.2,62, 188.7,39, 193.2,36, 204.6,34, 191.9,26, 191.8,13, 193,14, 181.8,37, 184.4,26, 187.5,20,
 185.8,18, 189.7,3, 202.3,-8, 210.8,-1,
 86.5,-11, 95,-30, 98,-31, 95.2,-11, 89,-5, 105.5,-25, 107,-18, 111.4,-27, 116.6,-33, 124,-41,
 126.7,-41, 128.4,-45, 130.8,-38, 135.4,-40, 140.3,-59, 142,-57, 143,-67, 146.9,-68, 147.9,-69,
 147.9,-77, 147.5,-86, 151.7,-80, 151.6,-67, 153.7,-59, 153.7,-65, 157.8,-59, 158,-70, 158.2,-66,
 161.5,-57, 162.6,-59, 164.9,-62, 165.7,-71, 162.6,-82, 162.5,-89,
 77.8,3, 78.8,7, 80.6,6, 83.7,4, 87.6,12, 89.6,4, 91.5,8, 95,-3, 97,0, 99.2,5, 100.2,-4, 102.5,-7,
 105.2,-5, 105.4,-12, 107.2,-18, 109.2,-7, 110.4,-11, 110.8,-20, 109.3,-24
];

const lowerTail = [
 219.8,-16, 228.5,-27, 208.9,-28, 209.7,-28, 206.5,-33, 205,-29, 204,-25, 201.6,-35, 200.2,-47,
 198.9,-44, 198.1,-39, 198.7,-35, 209.9,-48, 205.5,-54, 202.8,-53, 201.9,-68, 203.5,-73, 206.7,-72,
 209.7,-63, 210.6,-73, 211.7,-75, 215.7,-75, 219.6,-50, 219.3,-59, 219.3,-88, 222,-88, 217.2,-102,
 217.6,-111, 225.2,-98, 226.5,-100, 230.5,-102, 235.1,-88, 237.8,-114, 232.4,-147, 232,-168,
 212.6,-95, 210,-81, 204.7,-86, 206.2,-83, 202.5,-80, 197.1,-80, 197.6,-93, 199.9,-95, 199.5,-101,
 200.2,-105, 202.8,-120, 193.7,-90, 193.9,-94, 188.3,-101, 186,-107, 186.6,-97, 186.8,-92,
 187.9,-88, 184.4,-89, 186.1,-86, 172.8,-87, 172.7,-76, 174.8,-76, 176.1,-81, 177.6,-86, 173.7,-71,
 178.7,-71, 176.2,-65, 178.4,-66, 165.5,-71, 162.5,-82, 162.7,-89, 186.7,-73, 188.9,-72, 189.7,-75,
 190,-82, 188.2,-70, 192,-64, 194.2,-65, 196.2,-65, 198.7,-61, 196.1,-57, 195.3,-52, 193.3,-49,
 191.9,-45, 190,-50, 188.5,-50, 186.2,-48, 184.2,-47, 184.8,-58, 183.7,-61, 185.3,-62, 187.2,-56,
 184.9,-53, 180.5,-53, 181.6,-52, 180.8,-60, 180.2,-62, 179.6,-65, 181.3,-64, 180.7,-66,
 196.5,-40, 194.5,-39, 196.5,-35, 190.6,-32, 190.9,-29, 192.4,-25, 192.1,-18, 191.1,-6, 188.9,-22,
 189.7,-25, 188.8,-19, 187.2,-22, 186.6,-33, 184.3,-35, 183.5,-41, 182.7,-41, 187.8,-43, 188.1,-43,
 179.4,-48, 180.6,-49, 181.2,-51, 175,-44, 175.6,-40, 174.5,-42
];

// ---- drawing ----
const width = 1256, height = 712;
const pLeft = 76, pRight = 1256, pTop = 42, pBottom = 676;

const locale = d3.formatLocale({decimal: ",", thousands: ".", grouping: [3], currency: ["", " €"], minus: "\u2212"});
const fmt = locale.format(".2f");

let svg = d3.select("svg#chart")
            .attr("width", width)
            .attr("height", height)
            .style("font-family", "'Liberation Sans', Arial, sans-serif");

const x = d3.scaleLinear().domain([-0.02, 0.24]).range([88, 1245]);
const y = d3.scaleLinear().domain([-20, 30]).range([663, 54]);

function toPoints(arr) {
    let out = [];
    for (let i = 0; i < arr.length; i += 2) {
        out.push({eff: arr[i] / 1000, cost: arr[i + 1] / 10});
    }
    return out;
}
const points = [].concat(toPoints(mainCloud), toPoints(coreFill), toPoints(edgePoints), toPoints(lowerTail),
                         toPoints(upperCloud), toPoints(upperFill), toPoints(leftOutliers));

// grid
let grid = svg.append("g").attr("stroke", "#e4e4e4").attr("stroke-width", 1);
grid.selectAll("line.v").data(xTicks).join("line")
    .attr("class", "v")
    .attr("x1", d => x(d)).attr("x2", d => x(d))
    .attr("y1", pTop).attr("y2", pBottom);
grid.selectAll("line.h").data(yTicks).join("line")
    .attr("class", "h")
    .attr("x1", pLeft).attr("x2", pRight)
    .attr("y1", d => y(d)).attr("y2", d => y(d));

// vertical line at zero effect
svg.append("line")
    .attr("x1", x(0)).attr("x2", x(0))
    .attr("y1", pTop + 3).attr("y2", pBottom)
    .attr("stroke", "#333").attr("stroke-width", 2)
    .attr("stroke-dasharray", "5,3");

// points, coloured by the WTP threshold
svg.append("g").selectAll("circle").data(points)
    .join("circle")
    .attr("cx", d => x(d.eff))
    .attr("cy", d => y(d.cost))
    .attr("r", 3.4)
    .attr("fill", d => d.cost > wtp * d.eff ? "#dc143c" : "#32cd32");

// horizontal zero line
svg.append("line")
    .attr("x1", pLeft).attr("x2", pRight)
    .attr("y1", y(0)).attr("y2", y(0))
    .attr("stroke", "#222").attr("stroke-width", 1)
    .attr("stroke-dasharray", "6,4");

// WTP line
const e0 = x.invert(pLeft), e1 = x.invert(pRight);
svg.append("line")
    .attr("x1", x(e0)).attr("y1", y(wtp * e0))
    .attr("x2", x(e1)).attr("y2", y(wtp * e1))
    .attr("stroke", "#000").attr("stroke-width", 2)
    .attr("stroke-dasharray", "4,3");

const angle = Math.atan2(y(wtp * 0.1) - y(0), x(0.1) - x(0)) * 180 / Math.PI;
const lx = -0.0197;
svg.append("text")
    .attr("transform", `translate(${x(lx)},${y(wtp * lx)}) rotate(${angle})`)
    .attr("dy", -6)
    .style("font-family", "'DejaVu Sans', sans-serif")
    .style("font-size", "13.5px")
    .attr("fill", "#000")
    .text("WTP=" + locale.format(".1f")(wtp));

// confidence ellipse
const k = Math.sqrt(chi2_95);
const ell = d3.range(0, 361, 2).map(a => {
    const t = a * Math.PI / 180;
    return [meanEff + k * sdEff * Math.cos(t),
            meanCost + k * sdCost * (corr * Math.cos(t) + Math.sqrt(1 - corr * corr) * Math.sin(t))];
});
svg.append("path")
    .attr("d", d3.line().x(d => x(d[0])).y(d => y(d[1]))(ell))
    .attr("fill", "none")
    .attr("stroke", "#0a7a0a")
    .attr("stroke-width", 2);

// axes
let gx = svg.append("g")
    .attr("transform", `translate(0,${pBottom})`)
    .call(d3.axisBottom(x).tickValues(xTicks).tickFormat(fmt).tickSize(6).tickSizeOuter(0).tickPadding(3));
let gy = svg.append("g")
    .attr("transform", `translate(${pLeft},0)`)
    .call(d3.axisLeft(y).tickValues(yTicks).tickFormat(fmt).tickSize(8).tickSizeOuter(0).tickPadding(3));
[gx, gy].forEach(g => {
    g.select(".domain").attr("stroke", "#7f7f7f").attr("stroke-width", 2);
    g.selectAll(".tick line").attr("stroke", "#000").attr("stroke-width", 2);
    g.selectAll(".tick text")
        .attr("fill", "#222")
        .style("font-family", "'Liberation Sans', Arial, sans-serif")
        .style("font-size", "10px");
});

// titles
svg.append("text")
    .attr("x", 646).attr("y", 24)
    .attr("text-anchor", "middle")
    .style("font-family", "'DejaVu Sans', sans-serif")
    .style("font-weight", "bold")
    .style("font-size", "14.5px")
    .text(chartTitle);

svg.append("text")
    .attr("x", (pLeft + pRight) / 2).attr("y", 710)
    .attr("text-anchor", "middle")
    .style("font-family", "'DejaVu Sans', sans-serif")
    .style("font-weight", "bold")
    .style("font-size", "9px")
    .text(xTitle);

svg.append("text")
    .attr("transform", "translate(20,366) rotate(-90)")
    .attr("text-anchor", "middle")
    .style("font-family", "'DejaVu Sans', sans-serif")
    .style("font-weight", "bold")
    .style("font-size", "9px")
    .text(yTitle);
</script>
</body>
</html>
